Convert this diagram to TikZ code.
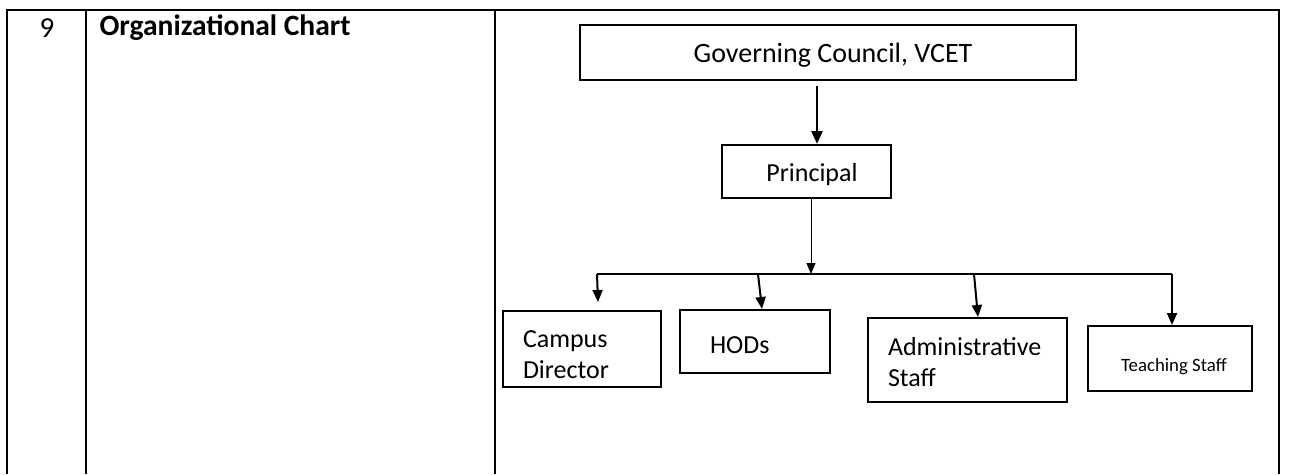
\documentclass[tikz,border=0pt]{standalone}
\usepackage{fontspec}
\setmainfont{Carlito}
\usetikzlibrary{arrows.meta}
\tikzset{
  tbl/.style={line width=1.4pt, black},
  box/.style={draw, line width=2pt, rectangle, inner sep=0pt, font=\fontsize{26}{31}\selectfont},
  thickarr/.style={line width=2.6pt, -{Triangle[length=13pt,width=11pt]}},
  thinarr/.style={line width=1pt, -{Triangle[length=11pt,width=9pt]}},
  brarr/.style={line width=2pt, -{Triangle[length=12pt,width=10pt]}},
  busline/.style={line width=2pt},
}
\begin{document}
\begin{tikzpicture}[x=1pt,y=-1pt]
\useasboundingbox (0,0) rectangle (1293,474);
% table
\draw[tbl] (7,474) -- (7,10) -- (1279,10) -- (1279,474);
\draw[tbl] (86,10) -- (86,474);
\draw[tbl] (495,10) -- (495,474);
\node[font=\fontsize{29}{34}\selectfont] (num) at (47,28) {9};
\node[anchor=west, font=\bfseries\fontsize{29.5}{34}\selectfont] (title) at (96,28) {Organizational Chart};
% boxes
\node[box, minimum width=496, minimum height=55, font=\fontsize{28}{33}\selectfont] (gc) at (828,52.5) {\rule{0pt}{25pt}\hspace{10pt}Governing Council, VCET};
\node[box, minimum width=169, minimum height=53] (pr) at (806.5,171.5) {\rule{0pt}{23.5pt}\hspace{11pt}Principal};
\node[box, minimum width=158, minimum height=76, align=left, text width=118, inner xsep=20] (cd) at (582,349) {\rule{0pt}{28pt}Campus\\Director};
\node[box, minimum width=150, minimum height=63, align=left, text width=90, inner xsep=30] (hod) at (755,341.5) {\rule{0pt}{23.5pt}HODs};
\node[box, minimum width=199, minimum height=84, align=left, text width=159, inner xsep=20] (adm) at (967.5,360) {\rule{0pt}{23pt}Administrative\\Staff};
\node[box, minimum width=164, minimum height=65, font=\fontsize{18.8}{22}\selectfont] (ts) at (1170,358.5) {\rule{0pt}{29pt}\hspace{8pt}Teaching Staff};
% bus coordinates
\coordinate (busL) at (597,274);
\coordinate (busM) at (811,274);
\coordinate (busH) at (758,274);
\coordinate (busA) at (974,274);
\coordinate (busR) at (1172,274);
% connectors
\draw[thickarr] ([xshift=-11pt,yshift=-5pt]gc.south) -- ([xshift=10.5pt]pr.north);
\draw[thinarr] ([xshift=4.5pt]pr.south) -- (busM);
\draw[busline] (busL) -- (busR);
\draw[brarr] (busL) -- ([xshift=16pt,yshift=8pt]cd.north);
\draw[brarr] (busH) -- ([xshift=7pt]hod.north);
\draw[brarr] (busA) -- ([xshift=10.5pt]adm.north);
\draw[brarr] (busR) -- ([xshift=2pt]ts.north);
\end{tikzpicture}
\end{document}
